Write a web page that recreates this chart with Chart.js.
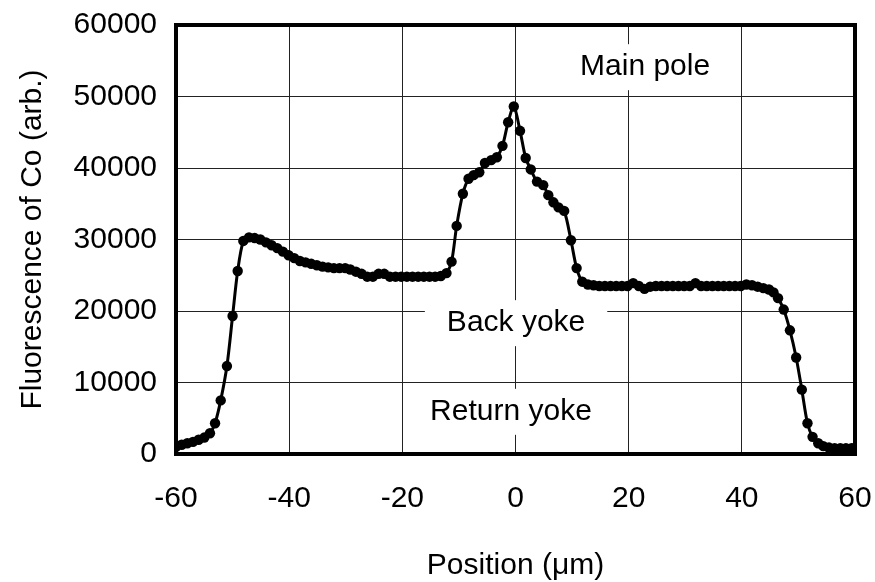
<!DOCTYPE html>
<html>
<head>
<meta charset="utf-8">
<script src="https://cdn.jsdelivr.net/npm/chart.js@4"></script>
<style>
  html, body { margin: 0; padding: 0; background: #ffffff; }
  #wrap { width: 875px; height: 582px; }
</style>
</head>
<body>
<div id="wrap"><canvas id="c" width="875" height="582"></canvas></div>
<script>
// Position (µm) of each measurement
const positions = [
  -60.0, -59.0, -58.0, -57.0, -56.0, -55.0, -54.0, -53.1, -52.1, -51.0,
  -50.0, -49.1, -48.1, -47.1, -46.1, -45.1, -44.1, -43.1, -42.1, -41.1,
  -40.1, -39.1, -38.1, -37.1, -36.1, -35.1, -34.1, -33.1, -32.1, -31.1,
  -30.1, -29.2, -28.2, -27.2, -26.2, -25.2, -24.2, -23.2, -22.2, -21.2,
  -20.2, -19.2, -18.2, -17.2, -16.2, -15.2, -14.2, -13.2, -12.2, -11.3,
  -10.4, -9.3, -8.3, -7.4, -6.4, -5.4, -4.3, -3.3, -2.3, -1.3,
  -0.3, 0.8, 1.8, 2.7, 3.8, 4.9, 5.8, 6.7, 7.6, 8.6,
  9.8, 10.8, 11.8, 12.8, 13.8, 14.8, 15.8, 16.8, 17.8, 18.8,
  19.8, 20.8, 21.8, 22.8, 23.8, 24.8, 25.8, 26.8, 27.8, 28.8,
  29.8, 30.8, 31.8, 32.8, 33.8, 34.8, 35.8, 36.8, 37.8, 38.8,
  39.8, 40.8, 41.8, 42.8, 43.8, 44.8, 45.6, 46.4, 47.4, 48.5,
  49.6, 50.6, 51.6, 52.5, 53.5, 54.4, 55.4, 56.4, 57.4, 58.4,
  59.4
];
// Fluorescence of Co (arb.)
const fluorescence = [
  1000, 1300, 1500, 1700, 2000, 2300, 2900, 4300, 7500, 12300,
  19300, 25600, 29800, 30300, 30200, 30000, 29600, 29200, 28800, 28300,
  27800, 27400, 27000, 26800, 26600, 26400, 26200, 26100, 26000, 26000,
  26000, 25800, 25500, 25200, 24800, 24800, 25200, 25200, 24800, 24800,
  24800, 24800, 24800, 24800, 24800, 24800, 24800, 24900, 25300, 26900,
  31900, 36400, 38500, 39000, 39400, 40700, 41100, 41500, 43100, 46400,
  48600, 45200, 41400, 39800, 38100, 37600, 36200, 35200, 34500, 34000,
  29900, 26000, 24100, 23700, 23600, 23500, 23500, 23500, 23500, 23500,
  23500, 23900, 23500, 23100, 23400, 23500, 23500, 23500, 23500, 23500,
  23500, 23500, 23900, 23500, 23500, 23500, 23500, 23500, 23500, 23500,
  23500, 23700, 23600, 23400, 23200, 23000, 22600, 21800, 20200, 17300,
  13500, 9000, 4300, 2400, 1500, 1100, 900, 800, 800, 800,
  800
];
const xTicks = [-60, -40, -20, 0, 20, 40, 60];
const yTicks = [0, 10000, 20000, 30000, 40000, 50000, 60000];
const regionLabels = ["Main pole", "Back yoke", "Return yoke"];
const regionX = [22.9, 0.1, -0.8];
const regionY = [54100, 18300, 5900];

const FONT = "'Liberation Sans', Arial, sans-serif";

const labelPlugin = {
  id: 'regionLabels',
  beforeDatasetsDraw(chart) {
    const ctx = chart.ctx;
    const xs = chart.scales.x, ys = chart.scales.y;
    ctx.save();
    ctx.font = "30px " + FONT;
    ctx.textAlign = 'center';
    ctx.textBaseline = 'middle';
    regionLabels.forEach((t, i) => {
      const px = xs.getPixelForValue(regionX[i]);
      const py = ys.getPixelForValue(regionY[i]);
      const w = ctx.measureText(t).width;
      ctx.fillStyle = '#ffffff';
      ctx.fillRect(px - w / 2 - 22, py - 23, w + 44, 46);
      ctx.fillStyle = '#000000';
      ctx.fillText(t, px, py);
    });
    ctx.restore();
  }
};

const framePlugin = {
  id: 'frame',
  afterDatasetsDraw(chart) {
    const a = chart.chartArea;
    const ctx = chart.ctx;
    ctx.save();
    ctx.strokeStyle = '#000000';
    ctx.lineWidth = 4;
    ctx.strokeRect(a.left, a.top, a.right - a.left, a.bottom - a.top);
    ctx.restore();
  }
};

new Chart(document.getElementById('c'), {
  type: 'scatter',
  data: {
    datasets: [{
      data: positions.map((x, i) => ({ x: x, y: fluorescence[i] })),
      showLine: true,
      borderColor: '#000000',
      borderWidth: 3,
      backgroundColor: '#000000',
      pointRadius: 5.2,
      pointHoverRadius: 5.2,
      pointBorderWidth: 0,
      tension: 0.3
    }]
  },
  options: {
    responsive: false,
    animation: false,
    events: [],
    layout: { padding: { top: 25, right: 20, left: 0, bottom: 0 } },
    plugins: { legend: { display: false }, tooltip: { enabled: false } },
    scales: {
      x: {
        type: 'linear',
        min: -60, max: 60,
        afterBuildTicks(s) { s.ticks = xTicks.map(v => ({ value: v })); },
        afterFit(s) { s.height = 128; s.paddingLeft = 0; s.paddingRight = 0; },
        grid: { color: '#222222', lineWidth: 1, drawTicks: false },
        border: { display: false },
        ticks: { color: '#000000', font: { family: FONT, size: 30 }, padding: 27, maxRotation: 0,
                 callback: v => String(v) },
        title: { display: true, text: 'Position (\u03bcm)', color: '#000000',
                 font: { family: FONT, size: 30, lineHeight: 1 }, padding: { top: 0, bottom: 1 } }
      },
      y: {
        type: 'linear',
        min: 0, max: 60000,
        afterBuildTicks(s) { s.ticks = yTicks.map(v => ({ value: v })); },
        afterFit(s) { s.width = 176; s.paddingTop = 0; s.paddingBottom = 0; },
        grid: { color: '#222222', lineWidth: 1, drawTicks: false },
        border: { display: false },
        ticks: { color: '#000000', font: { family: FONT, size: 30 }, padding: 19,
                 callback: v => String(v) },
        title: { display: true, text: 'Fluorescence of Co (arb.)', color: '#000000',
                 font: { family: FONT, size: 30, lineHeight: 1 }, padding: { top: 18, bottom: 0 } }
      }
    }
  },
  plugins: [labelPlugin, framePlugin]
});
</script>
</body>
</html>
